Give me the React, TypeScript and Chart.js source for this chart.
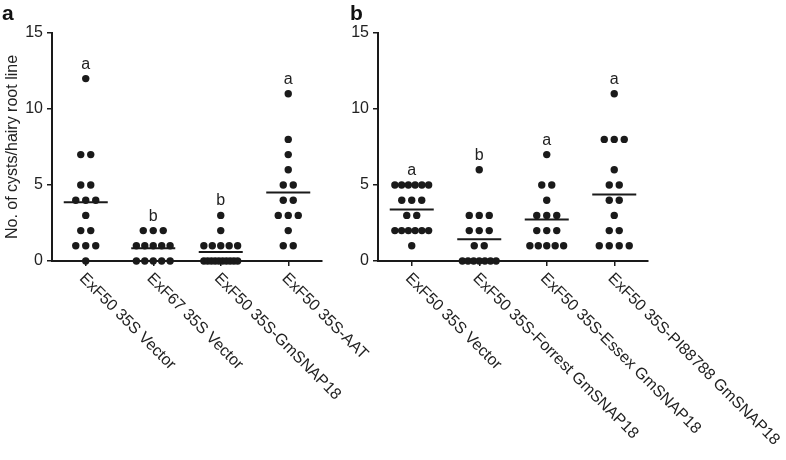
import React, { useEffect, useRef } from "react";
import { Chart, registerables } from "chart.js";

Chart.register(...registerables);

// ---- data ----
const categoriesA = ["ExF50 35S Vector", "ExF67 35S Vector", "ExF50 35S-GmSNAP18", "ExF50 35S-AAT"];
const categoriesB = [
  "ExF50 35S Vector",
  "ExF50 35S-Forrest GmSNAP18",
  "ExF50 35S-Essex GmSNAP18",
  "ExF50 35S-PI88788 GmSNAP18",
];
const a1 = [12, 7, 7, 5, 5, 4, 4, 4, 3, 2, 2, 1, 1, 1, 0];
const a2 = [2, 2, 2, 1, 1, 1, 1, 1, 0, 0, 0, 0, 0];
const a3 = [3, 2, 1, 1, 1, 1, 1, 0, 0, 0, 0, 0, 0, 0, 0, 0, 0];
const a4 = [11, 8, 7, 6, 5, 5, 4, 4, 3, 3, 3, 2, 1, 1];
const b1 = [5, 5, 5, 5, 5, 5, 4, 4, 4, 3, 3, 2, 2, 2, 2, 2, 2, 1];
const b2 = [6, 3, 3, 3, 2, 2, 2, 1, 1, 0, 0, 0, 0, 0, 0, 0];
const b3 = [7, 5, 5, 4, 3, 3, 3, 2, 2, 2, 1, 1, 1, 1, 1];
const b4 = [11, 8, 8, 8, 6, 5, 5, 4, 4, 3, 2, 2, 1, 1, 1, 1];
const lettersA = ["a", "b", "b", "a"];
const lettersB = ["a", "b", "a", "a"];
const yTicks = [0, 5, 10, 15];
const yTitle = "No. of cysts/hairy root line";

const FONT = '"Liberation Sans", Arial, Helvetica, sans-serif';
const INK = "#1a1a1a";
const TXT = "#222";

// dot arrangement (in x-axis units; one category = 1 unit)
const DOT_STEP = 0.148;
const ROW_SPAN = 0.5;
const MEAN_HALF = 0.326;

function swarm(groups: number[][]) {
  const pts: { x: number; y: number }[] = [];
  groups.forEach((g, i) => {
    const counts = new Map<number, number>();
    g.forEach((v) => counts.set(v, (counts.get(v) || 0) + 1));
    counts.forEach((n, v) => {
      const step = n > 1 ? Math.min(DOT_STEP, ROW_SPAN / (n - 1)) : 0;
      for (let k = 0; k < n; k++) {
        pts.push({ x: i + (k - (n - 1) / 2) * step, y: v });
      }
    });
  });
  return pts;
}

const mean = (g: number[]) => g.reduce((s, v) => s + v, 0) / g.length;

function Panel({
  groups,
  cats,
  letters,
  panelLabel,
  showTitle,
  left,
  width,
}: {
  groups: number[][];
  cats: string[];
  letters: string[];
  panelLabel: string;
  showTitle: boolean;
  left: number;
  width: number;
}) {
  const ref = useRef<HTMLCanvasElement>(null);
  useEffect(() => {
    if (!ref.current) return;
    const meanSets = groups.map((g, i) => ({
      type: "scatter" as const,
      data: [
        { x: i - MEAN_HALF, y: mean(g) },
        { x: i + MEAN_HALF, y: mean(g) },
      ],
      showLine: true,
      borderColor: INK,
      borderWidth: 2,
      pointRadius: 0,
      clip: false as any,
    }));
    const overlay = {
      id: "overlay",
      afterDraw(chart: any) {
        const ctx = chart.ctx;
        const xs = chart.scales.x;
        const ys = chart.scales.y;
        ctx.save();
        ctx.fillStyle = TXT;
        // significance letters
        ctx.font = `16px ${FONT}`;
        ctx.textAlign = "center";
        ctx.textBaseline = "alphabetic";
        groups.forEach((g, i) => {
          const px = xs.getPixelForValue(i);
          const py = ys.getPixelForValue(Math.max(...g));
          ctx.fillText(letters[i], px, py - 10);
        });
        // rotated category labels
        ctx.textAlign = "left";
        ctx.textBaseline = "middle";
        cats.forEach((c, i) => {
          const px = xs.getPixelForValue(i);
          ctx.save();
          ctx.translate(px - 4, xs.top + 15);
          ctx.rotate(Math.PI / 4);
          ctx.fillText(c, 0, 0);
          ctx.restore();
        });
        // y title
        if (showTitle) {
          ctx.save();
          ctx.translate(13, (ys.top + ys.bottom) / 2);
          ctx.rotate(-Math.PI / 2);
          ctx.textAlign = "center";
          ctx.textBaseline = "middle";
          ctx.fillText(yTitle, 0, 0);
          ctx.restore();
        }
        // panel label
        ctx.font = `bold 21px ${FONT}`;
        ctx.textAlign = "left";
        ctx.textBaseline = "alphabetic";
        ctx.fillStyle = "#111";
        ctx.fillText(panelLabel, showTitle ? 2 : 24, 20);
        ctx.restore();
      },
    };
    const chart = new Chart(ref.current, {
      type: "scatter",
      data: {
        datasets: [
          ...meanSets,
          {
            data: swarm(groups),
            backgroundColor: INK,
            borderColor: INK,
            borderWidth: 0,
            pointRadius: 3.7,
            clip: false as any,
          },
        ],
      },
      options: {
        responsive: false,
        animation: false,
        devicePixelRatio: 1,
        layout: { padding: { left: 0, right: width - 322, top: 33, bottom: 0 } },
        plugins: { legend: { display: false }, tooltip: { enabled: false } },
        scales: {
          x: {
            type: "linear",
            min: -0.5,
            max: 3.5,
            afterBuildTicks: (s: any) => {
              s.ticks = cats.map((_, i) => ({ value: i }));
            },
            afterFit: (s: any) => {
              s.height = 199;
            },
            ticks: { display: false },
            grid: {
              display: true,
              drawOnChartArea: false,
              drawTicks: true,
              tickLength: 5,
              color: INK,
              lineWidth: 1.5,
            },
            border: { display: true, color: INK, width: 2 },
          },
          y: {
            min: 0,
            max: 15,
            afterBuildTicks: (s: any) => {
              s.ticks = yTicks.map((v) => ({ value: v }));
            },
            afterFit: (s: any) => {
              s.width = 52;
            },
            ticks: {
              font: { family: FONT, size: 16 },
              color: TXT,
              padding: 4,
            },
            grid: {
              display: true,
              drawOnChartArea: false,
              drawTicks: true,
              tickLength: 5,
              color: INK,
              lineWidth: 1.5,
            },
            border: { display: true, color: INK, width: 2 },
          },
        },
      },
      plugins: [overlay],
    });
    return () => chart.destroy();
  }, []);
  return (
    <canvas
      ref={ref}
      width={width}
      height={460}
      style={{ position: "absolute", left, top: 0, width, height: 460 }}
    />
  );
}

export default function App() {
  return (
    <div
      style={{
        position: "fixed",
        left: 0,
        top: 0,
        width: 786,
        height: 460,
        background: "#fff",
        overflow: "hidden",
      }}
    >
      <Panel groups={[a1, a2, a3, a4]} cats={categoriesA} letters={lettersA} panelLabel="a" showTitle left={0} width={420} />
      <Panel groups={[b1, b2, b3, b4]} cats={categoriesB} letters={lettersB} panelLabel="b" showTitle={false} left={326} width={460} />
    </div>
  );
}
